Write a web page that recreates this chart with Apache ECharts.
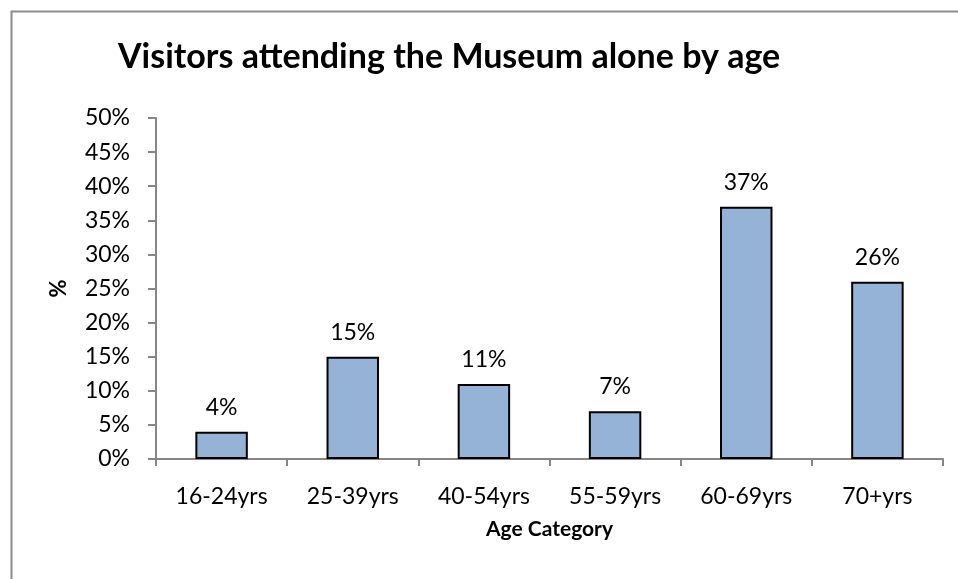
<!DOCTYPE html>
<html>
<head>
<meta charset="utf-8">
<script src="https://cdn.jsdelivr.net/npm/echarts@6/dist/echarts.min.js"></script>
<style>
  html, body { margin: 0; padding: 0; background: #ffffff; }
  #chart { width: 958px; height: 579px; }
</style>
</head>
<body>
<div id="chart"></div>
<script>
// Share of visitors who came to the museum alone, per age band
const categories = ['16-24yrs', '25-39yrs', '40-54yrs', '55-59yrs', '60-69yrs', '70+yrs'];
const percentAlone = [4, 15, 11, 7, 37, 26];
const yTicks = { min: 0, max: 50, step: 5 };

const FONT = 'Lato, "Open Sans", sans-serif';
const AXIS_GREY = '#868686';

const chart = echarts.init(document.getElementById('chart'), null, { renderer: 'canvas' });

chart.setOption({
  backgroundColor: '#ffffff',
  animation: false,
  title: {
    text: 'Visitors attending the Museum alone by age',
    left: 113,
    top: 35,
    textStyle: { fontFamily: FONT, fontSize: 34, fontWeight: 'bold', color: '#000000' }
  },
  graphic: [{
    type: 'rect',
    shape: { x: 11.5, y: 11.5, width: 950, height: 600 },
    style: { fill: 'none', stroke: '#8c8c8c', lineWidth: 2 },
    silent: true
  }],
  grid: { left: 156, right: 15, top: 118, bottom: 120, containLabel: false },
  xAxis: {
    type: 'category',
    data: categories,
    name: 'Age Category',
    nameLocation: 'middle',
    nameGap: 60,
    nameTextStyle: { fontFamily: FONT, fontSize: 21, fontWeight: 'bold', color: '#000000' },
    axisLine: { lineStyle: { color: AXIS_GREY, width: 2 } },
    axisTick: { show: true, alignWithLabel: false, length: 7, lineStyle: { color: AXIS_GREY, width: 2 } },
    axisLabel: { fontFamily: FONT, fontSize: 23, color: '#000000', margin: 26 },
    splitLine: { show: false }
  },
  yAxis: {
    type: 'value',
    min: yTicks.min,
    max: yTicks.max,
    interval: yTicks.step,
    name: '%',
    nameLocation: 'middle',
    nameGap: 86,
    nameRotate: 90,
    nameTextStyle: { fontFamily: FONT, fontSize: 22, fontWeight: 'bold', color: '#000000' },
    axisLine: { show: true, lineStyle: { color: AXIS_GREY, width: 2 } },
    axisTick: { show: true, length: 8, lineStyle: { color: AXIS_GREY, width: 2 } },
    axisLabel: { fontFamily: FONT, fontSize: 23, color: '#000000', margin: 26, formatter: '{value}%' },
    splitLine: { show: false }
  },
  series: [{
    type: 'bar',
    data: percentAlone,
    barCategoryGap: '60%',
    itemStyle: { color: '#95b3d7', borderColor: '#000000', borderWidth: 2 },
    label: {
      show: true,
      position: 'top',
      distance: 13,
      formatter: '{c}%',
      fontFamily: FONT,
      fontSize: 23,
      color: '#000000'
    }
  }]
});
</script>
</body>
</html>
